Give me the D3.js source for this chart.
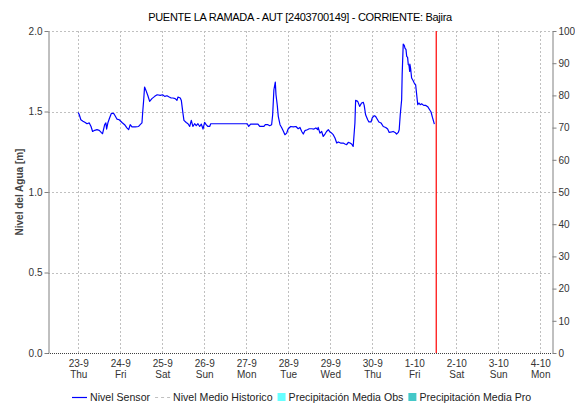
<!DOCTYPE html>
<html>
<head>
<meta charset="utf-8">
<script src="https://cdn.jsdelivr.net/npm/d3@7"></script>
<style>
  html, body { margin: 0; padding: 0; background: #fff; }
  svg { display: block; font-family: "Liberation Sans", Arial, sans-serif; }
</style>
</head>
<body>
<svg id="chart" width="575" height="404"></svg>
<script>
// Estación y serie de nivel (horas desde 2021-09-23 00:00 UTC)
const titulo = "PUENTE LA RAMADA - AUT [2403700149] - CORRIENTE: Bajira";
const horas = [
  0, 0.6, 1.5, 2.7, 4.0, 5.0, 6.3, 7.3, 8.2, 9.4, 10.7, 12.0, 13.1, 13.9, 15.1, 15.8, 16.2, 17.0, 17.9, 18.9,
  20.2, 20.8, 22.1, 23.4, 25.0, 26.5, 27.8, 28.8, 29.7, 30.7, 32.6, 34.5, 35.4, 36.4, 36.8, 37.4, 37.9, 38.7,
  39.8, 40.8, 42.1, 43.7, 45.1, 46.9, 48.2, 49.4, 50.7, 52.0, 53.1, 54.1, 55.4, 56.4, 57.0, 58.3, 58.9, 59.8,
  60.4, 61.7, 62.7, 63.7, 64.6, 65.5, 66.5, 67.4, 68.4, 69.4, 70.3, 71.3, 72.2, 73.1, 74.1, 75.1, 75.7, 80.0,
  85.0, 90.0, 96.6, 97.4, 98.5, 100.8, 102.7, 103.7, 106.1, 106.9, 108.4, 109.4, 110.5, 111.1, 111.8, 112.6,
  113.0, 113.7, 114.3, 115.3, 116.2, 117.1, 118.1, 119.1, 120.0, 121.4, 122.9, 124.4, 125.7, 126.7, 127.7,
  128.6, 129.5, 130.9, 132.0, 133.4, 134.7, 135.8, 136.8, 137.1, 138.1, 139.1, 140.0, 141.0, 141.9, 142.9,
  143.8, 144.8, 145.7, 146.7, 147.7, 148.6, 149.9, 151.4, 152.4, 153.4, 154.3, 155.3, 156.2, 157.1, 158.1,
  158.5, 159.7, 160.8, 161.9, 162.9, 163.4, 164.2, 165.4, 166.1, 167.3, 168.0, 169.1, 169.9, 170.7, 171.8,
  173.0, 174.3, 175.7, 176.8, 177.7, 179.1, 180.0, 181.0, 181.9, 182.9, 183.4, 184.0, 184.8, 185.1, 185.7,
  186.3, 186.7, 187.3, 187.7, 188.2, 188.6, 189.0, 189.4, 189.5, 189.9, 190.5, 191.4, 192.0, 192.8, 193.4,
  194.0, 194.7, 195.4, 196.2, 197.4, 198.5, 199.7, 200.8, 201.6, 202.4, 203.5
];
const nivel = [
  1.494, 1.480, 1.449, 1.440, 1.432, 1.424, 1.429, 1.407, 1.376, 1.383, 1.387, 1.383, 1.370, 1.362, 1.418, 1.429, 1.391, 1.432, 1.460, 1.488,
  1.488, 1.478, 1.453, 1.449, 1.432, 1.418, 1.398, 1.387, 1.418, 1.404, 1.404, 1.407, 1.418, 1.429, 1.491, 1.573, 1.652, 1.631,
  1.598, 1.563, 1.580, 1.594, 1.604, 1.600, 1.604, 1.594, 1.598, 1.590, 1.584, 1.584, 1.580, 1.569, 1.590, 1.584, 1.569, 1.491,
  1.445, 1.432, 1.424, 1.407, 1.445, 1.407, 1.424, 1.412, 1.424, 1.407, 1.422, 1.391, 1.432, 1.418, 1.407, 1.407, 1.424, 1.424,
  1.424, 1.424, 1.424, 1.407, 1.422, 1.422, 1.422, 1.407, 1.407, 1.418, 1.418, 1.412, 1.418, 1.480, 1.635, 1.683,
  1.604, 1.542, 1.470, 1.418, 1.401, 1.381, 1.356, 1.366, 1.393, 1.407, 1.404, 1.407, 1.393, 1.401, 1.376,
  1.360, 1.381, 1.387, 1.393, 1.393, 1.391, 1.398, 1.387, 1.401, 1.366, 1.376, 1.345, 1.360, 1.376, 1.387,
  1.373, 1.366, 1.356, 1.335, 1.304, 1.311, 1.304, 1.304, 1.298, 1.294, 1.308, 1.304, 1.298, 1.283, 1.429,
  1.569, 1.563, 1.532, 1.553, 1.557, 1.538, 1.480, 1.449, 1.435, 1.435, 1.460, 1.474, 1.470, 1.455, 1.435,
  1.429, 1.407, 1.401, 1.391, 1.370, 1.373, 1.376, 1.370, 1.360, 1.370, 1.387, 1.480, 1.573, 1.729, 1.919,
  1.911, 1.894, 1.884, 1.842, 1.836, 1.791, 1.786, 1.749, 1.795, 1.770, 1.708, 1.691, 1.677, 1.666, 1.604,
  1.542, 1.553, 1.542, 1.548, 1.538, 1.538, 1.530, 1.511, 1.497, 1.463, 1.422
];
const nivelTicks = [0, 0.5, 1.0, 1.5, 2.0];
const precipTicks = [0, 10, 20, 30, 40, 50, 60, 70, 80, 90, 100];
const dias = ["2021-09-23", "2021-09-24", "2021-09-25", "2021-09-26", "2021-09-27", "2021-09-28",
              "2021-09-29", "2021-09-30", "2021-10-01", "2021-10-02", "2021-10-03", "2021-10-04"];
const ahora = "2021-10-01T12:34:00Z";
const dominio = ["2021-09-22T06:43:00Z", "2021-10-04T06:43:00Z"];
const leyenda = [
  { nombre: "Nivel Sensor", tipo: "linea", color: "#0000ff" },
  { nombre: "Nivel Medio Historico", tipo: "guion", color: "#c0c0c0" },
  { nombre: "Precipitación Media Obs", tipo: "caja", color: "#66ffff" },
  { nombre: "Precipitación Media Pro", tipo: "caja", color: "#44c8c8" }
];

const svg = d3.select("#chart");
const m = { left: 48, right: 552, top: 31, bottom: 353 };
const base = Date.UTC(2021, 8, 23);

const x = d3.scaleUtc().domain(dominio.map(d => new Date(d))).range([m.left, m.right]);
const y = d3.scaleLinear().domain([0, 2]).range([m.bottom, m.top]);
const y2 = d3.scaleLinear().domain([0, 100]).range([m.bottom, m.top]);

const serie = horas.map((h, i) => ({ t: new Date(base + h * 3600e3), v: nivel[i] }));
const diasT = dias.map(d => new Date(d + "T00:00:00Z"));

// Rejilla
const grid = svg.append("g");
grid.selectAll("line.v").data(diasT).join("line")
  .attr("x1", d => Math.round(x(d)) + 0.5).attr("x2", d => Math.round(x(d)) + 0.5)
  .attr("y1", m.top).attr("y2", m.bottom)
  .attr("stroke", "#c0c0c0").attr("stroke-dasharray", "2,2");
grid.selectAll("line.h").data(nivelTicks.filter(d => d > 0)).join("line")
  .attr("x1", m.left).attr("x2", m.right)
  .attr("y1", d => Math.round(y(d)) + 0.5).attr("y2", d => Math.round(y(d)) + 0.5)
  .attr("stroke", "#c0c0c0").attr("stroke-dasharray", "2,2");
// Línea base
svg.append("line")
  .attr("x1", m.left).attr("x2", m.right)
  .attr("y1", Math.round(y(0)) + 0.5).attr("y2", Math.round(y(0)) + 0.5)
  .attr("stroke", "#404040").attr("stroke-dasharray", "1,1");

// Ejes
const fmt1 = d3.format(".1f");
const axL = svg.append("g").attr("transform", `translate(${m.left + 0.5},0)`)
  .call(d3.axisLeft(y).tickValues(nivelTicks).tickFormat(fmt1).tickSize(4).tickSizeOuter(0));
const axR = svg.append("g").attr("transform", `translate(${m.right + 0.5},0)`)
  .call(d3.axisRight(y2).tickValues(precipTicks).tickSize(4).tickSizeOuter(0));
[axL, axR].forEach(g => {
  g.select(".domain").attr("stroke", "#808080");
  g.selectAll(".tick line").attr("stroke", "#808080");
  g.selectAll(".tick text").attr("fill", "#333").attr("font-size", 10)
    .attr("font-family", "Liberation Sans, Arial, sans-serif");
});
axL.selectAll(".tick text").attr("x", -6);
axR.selectAll(".tick text").attr("x", 6);

const axB = svg.append("g").attr("transform", `translate(0,${m.bottom})`)
  .call(d3.axisBottom(x).tickValues(diasT).tickSize(0).tickFormat(""));
axB.select(".domain").remove();
const fDia = d3.utcFormat("%-d-%-m"), fSem = d3.utcFormat("%a");
axB.selectAll(".tick").each(function(d) {
  const t = d3.select(this).append("text").attr("fill", "#333").attr("font-size", 10)
    .attr("text-anchor", "middle").attr("font-family", "Liberation Sans, Arial, sans-serif");
  t.append("tspan").attr("x", 0).attr("y", 14).text(fDia(d));
  t.append("tspan").attr("x", 0).attr("y", 25).text(fSem(d));
});

// Serie de nivel
svg.append("path").datum(serie)
  .attr("fill", "none").attr("stroke", "#0000ff").attr("stroke-width", 1.2)
  .attr("stroke-linejoin", "round")
  .attr("d", d3.line().x(d => x(d.t)).y(d => y(d.v)));

// Marca del instante actual
const xa = x(new Date(ahora));
svg.append("line").attr("x1", xa).attr("x2", xa).attr("y1", m.top).attr("y2", m.bottom)
  .attr("stroke", "#ff0000").attr("stroke-width", 1.2);

// Título
svg.append("text").attr("x", (m.left + m.right) / 2).attr("y", 21)
  .attr("text-anchor", "middle").attr("font-size", 11).attr("letter-spacing", "-0.3px")
  .attr("fill", "#000").text(titulo);

// Etiqueta del eje Y
svg.append("text").attr("transform", `translate(23,${(m.top + m.bottom) / 2}) rotate(-90)`)
  .attr("text-anchor", "middle").attr("font-size", 10).attr("font-weight", "bold")
  .attr("fill", "#444").text("Nivel del Agua [m]");

// Leyenda
const lg = svg.append("g");
const sep = 5;
let cx = 0;
leyenda.forEach(it => {
  const g = lg.append("g").attr("transform", `translate(${cx},0)`);
  let w;
  if (it.tipo === "caja") {
    g.append("rect").attr("x", 0).attr("y", -4).attr("width", 8).attr("height", 8).attr("fill", it.color);
    w = 11;
  } else {
    g.append("line").attr("x1", 0).attr("x2", 15).attr("y1", 0.5).attr("y2", 0.5)
      .attr("stroke", it.color).attr("stroke-width", 1.2)
      .attr("stroke-dasharray", it.tipo === "guion" ? "3,3" : null);
    w = 18;
  }
  const t = g.append("text").attr("x", w).attr("y", 4).attr("font-size", 10.6).attr("fill", "#222").text(it.nombre);
  cx += w + t.node().getComputedTextLength() + sep;
});
lg.attr("transform", `translate(${Math.round(302 - (cx - sep) / 2)},397)`);
</script>
</body>
</html>
